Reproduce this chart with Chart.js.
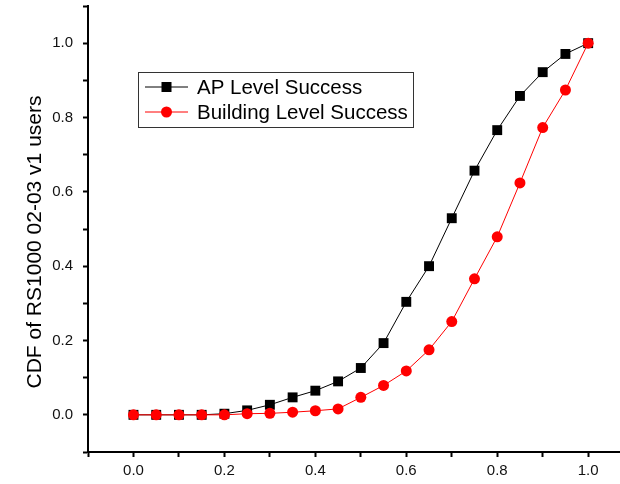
<!DOCTYPE html>
<html lang="en">
<head>
    <meta charset="UTF-8">
    <title>CDF of RS1000 02-03 v1 users</title>
    <script src="https://cdn.jsdelivr.net/npm/chart.js"></script>
    <style>
        body { margin: 0; background: #fff; }
        #chart-container { width: 620px; height: 484px; }
    </style>
</head>
<body>
    <div id="chart-container">
        <canvas id="cdfChart"></canvas>
    </div>

    <script>
        // Fraction of successful localisations (x) and CDF values
        const successRate = [0, 0.05, 0.1, 0.15, 0.2, 0.25, 0.3, 0.35, 0.4, 0.45, 0.5,
                             0.55, 0.6, 0.65, 0.7, 0.75, 0.8, 0.85, 0.9, 0.95, 1.0];
        const apLevel = [0, 0, 0, 0, 0.003, 0.012, 0.027, 0.047, 0.065, 0.09, 0.126,
                         0.193, 0.304, 0.4, 0.529, 0.657, 0.766, 0.858, 0.922, 0.971, 1.0];
        const buildingLevel = [0, 0, 0, 0, 0, 0.003, 0.004, 0.007, 0.011, 0.016, 0.047,
                               0.079, 0.118, 0.175, 0.251, 0.366, 0.479, 0.624, 0.773, 0.874, 1.0];

        const seriesLabels = ['AP Level Success', 'Building Level Success'];
        const yTitle = 'CDF of RS1000 02-03 v1 users';

        // Tick positions (major + minor) and their labels
        const xTickValues = [-0.1, 0, 0.1, 0.2, 0.3, 0.4, 0.5, 0.6, 0.7, 0.8, 0.9, 1.0];
        const xTickLabels = ['', '0.0', '', '0.2', '', '0.4', '', '0.6', '', '0.8', '', '1.0'];
        const yTickValues = [-0.1, 0, 0.1, 0.2, 0.3, 0.4, 0.5, 0.6, 0.7, 0.8, 0.9, 1.0, 1.1];
        const yTickLabels = ['', '0.0', '', '0.2', '', '0.4', '', '0.6', '', '0.8', '', '1.0', ''];

        const FONT = "'Liberation Sans', Arial, sans-serif";

        function toPoints(ys) {
            return successRate.map((x, i) => ({ x: x, y: ys[i] }));
        }

        // Draws the rotated y title and the Origin-style legend box
        const decorations = {
            id: 'decorations',
            afterDraw(chart) {
                const ctx = chart.ctx;
                ctx.save();

                // y axis title
                ctx.translate(35, 242);
                ctx.rotate(-Math.PI / 2);
                ctx.fillStyle = '#000';
                ctx.font = '21px ' + FONT;
                ctx.textAlign = 'center';
                ctx.textBaseline = 'middle';
                ctx.fillText(yTitle, 0, 0);
                ctx.restore();

                // legend
                ctx.save();
                ctx.strokeStyle = '#333';
                ctx.lineWidth = 1;
                ctx.strokeRect(138.5, 72.5, 275, 55);
                ctx.font = '20.5px ' + FONT;
                ctx.textBaseline = 'middle';
                ctx.textAlign = 'left';
                const rows = [87, 112];
                chart.data.datasets.forEach((ds) => {
                    const y = rows[ds.legendRow];
                    ctx.strokeStyle = ds.borderColor;
                    ctx.lineWidth = 1;
                    ctx.beginPath();
                    ctx.moveTo(145, y);
                    ctx.lineTo(188, y);
                    ctx.stroke();
                    ctx.fillStyle = ds.pointBackgroundColor;
                    if (ds.pointStyle === 'rect') {
                        ctx.fillRect(161.5, y - 5, 10, 10);
                    } else {
                        ctx.beginPath();
                        ctx.arc(166.5, y, 5.5, 0, Math.PI * 2);
                        ctx.fill();
                    }
                    ctx.fillStyle = '#000';
                    ctx.fillText(ds.label, 197, y + 1);
                });
                ctx.restore();
            }
        };

        const axisCommon = {
            type: 'linear',
            grid: {
                drawOnChartArea: false,
                drawTicks: true,
                tickLength: 5,
                tickWidth: 2,
                tickColor: '#000'
            },
            border: { display: true, color: '#000', width: 2 },
            ticks: {
                color: '#111',
                font: { family: FONT, size: 15 },
                autoSkip: false,
                maxRotation: 0
            }
        };

        const ctx = document.getElementById('cdfChart').getContext('2d');
        new Chart(ctx, {
            type: 'line',
            data: {
                datasets: [
                    {
                        label: seriesLabels[0],
                        legendRow: 0,
                        data: toPoints(apLevel),
                        borderColor: '#000000',
                        borderWidth: 1,
                        pointStyle: 'rect',
                        pointRadius: 7,
                        pointBackgroundColor: '#000000',
                        pointBorderWidth: 0,
                        order: 1
                    },
                    {
                        label: seriesLabels[1],
                        legendRow: 1,
                        data: toPoints(buildingLevel),
                        borderColor: '#ff0000',
                        borderWidth: 1,
                        pointStyle: 'circle',
                        pointRadius: 5.5,
                        pointBackgroundColor: '#ff0000',
                        pointBorderWidth: 0,
                        order: 0
                    }
                ]
            },
            options: {
                responsive: true,
                maintainAspectRatio: false,
                animation: false,
                layout: {
                    autoPadding: false,
                    padding: { top: 6, right: 0, left: 0, bottom: 0 }
                },
                plugins: {
                    legend: { display: false },
                    tooltip: { enabled: false }
                },
                scales: {
                    x: {
                        ...axisCommon,
                        position: 'bottom',
                        min: -0.1,
                        max: 1.07,
                        afterBuildTicks: (scale) => {
                            scale.ticks = xTickValues.map(v => ({ value: v }));
                        },
                        afterFit: (scale) => {
                            scale.height = 32;
                            scale.paddingLeft = 0;
                            scale.paddingRight = 0;
                        },
                        ticks: {
                            ...axisCommon.ticks,
                            padding: 5,
                            callback: (value, i) => xTickLabels[i]
                        }
                    },
                    y: {
                        ...axisCommon,
                        position: 'left',
                        min: -0.1,
                        max: 1.1,
                        afterBuildTicks: (scale) => {
                            scale.ticks = yTickValues.map(v => ({ value: v }));
                        },
                        afterFit: (scale) => {
                            scale.width = 88;
                            scale.paddingTop = 0;
                            scale.paddingBottom = 0;
                        },
                        ticks: {
                            ...axisCommon.ticks,
                            padding: 10,
                            callback: (value, i) => yTickLabels[i]
                        }
                    }
                }
            },
            plugins: [decorations]
        });
    </script>
</body>
</html>
